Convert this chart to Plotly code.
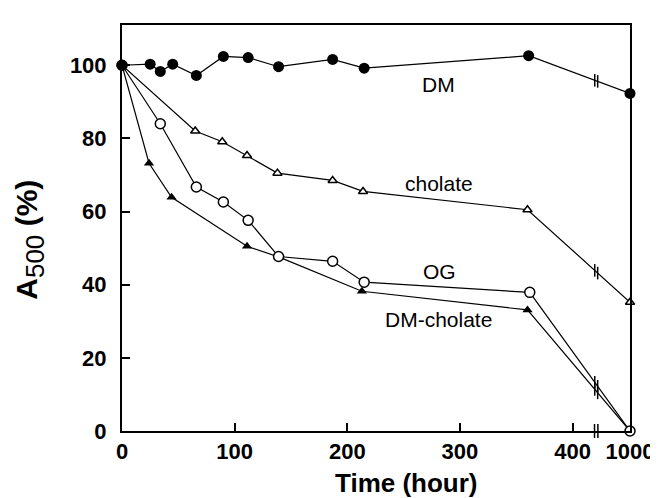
import plotly.graph_objects as go

# ---- data ----
dm_t = [0, 25, 34, 45, 66, 90, 112, 139, 187, 215, 361, 1000]
dm_v = [100, 100.3, 98.3, 100.3, 97.2, 102.4, 102.1, 99.6, 101.6, 99.2, 102.6, 92.3]

cholate_t = [0, 65, 89, 111, 138, 187, 214, 360, 1000]
cholate_v = [100, 82.0, 79.1, 75.3, 70.5, 68.5, 65.5, 60.5, 35.2]

og_t = [0, 34, 66, 90, 112, 139, 187, 215, 362, 1000]
og_v = [100, 84.0, 66.7, 62.6, 57.6, 47.7, 46.4, 40.7, 37.9, 0]

dmchol_t = [0, 24, 44, 111, 139, 213, 360, 1000]
dmchol_v = [100, 73.2, 63.9, 50.5, 47.6, 38.2, 33.1, 0]

x_tick_labels = ["0", "100", "200", "300", "400", "1000"]
y_tick_vals = [0, 20, 40, 60, 80, 100]

# ---- broken axis layout ----
BREAK_AT = 421
POS_1000 = 451


def to_axis(ts):
    return [t if t <= 400 else POS_1000 for t in ts]


x_tick_vals = [0, 100, 200, 300, 400, POS_1000]

FONT = "Liberation Sans"
fig = go.Figure()

series = [
    ("DM-cholate", dmchol_t, dmchol_v, dict(symbol="triangle-up", size=9, color="black")),
    ("OG", og_t, og_v, dict(symbol="circle", size=10, color="white", line=dict(color="black", width=1.5))),
    ("cholate", cholate_t, cholate_v, dict(symbol="triangle-up", size=8, color="white", line=dict(color="black", width=1.5))),
    ("DM", dm_t, dm_v, dict(symbol="circle", size=11, color="black")),
]

for name, t, v, mk in series:
    xs = to_axis(t)
    fig.add_trace(go.Scatter(x=xs, y=v, mode="lines+markers", name=name,
                             line=dict(color="black", width=1.2), marker=mk,
                             cliponaxis=False, showlegend=False))
    # break marks on the last segment
    x0, y0, x1, y1 = xs[-2], v[-2], xs[-1], v[-1]
    bx = [BREAK_AT - 1.3, BREAK_AT + 1.3]
    by = [y0 + (b - x0) * (y1 - y0) / (x1 - x0) for b in bx]
    fig.add_trace(go.Scatter(x=bx, y=by, mode="markers", showlegend=False,
                             marker=dict(symbol="line-ns", size=9,
                                         line=dict(color="black", width=1.5)),
                             hoverinfo="skip", cliponaxis=False))

# break marks on x axis
fig.add_trace(go.Scatter(x=[BREAK_AT - 1.5, BREAK_AT + 1.5], y=[0, 0], mode="markers",
                         showlegend=False, cliponaxis=False, hoverinfo="skip",
                         marker=dict(symbol="line-ns", size=10,
                                     line=dict(color="black", width=1.5))))

# series labels
labels = [("DM", 281, 94.8), ("cholate", 281, 67.8), ("OG", 282, 43.6), ("DM-cholate", 281, 30.4)]
for txt, lx, ly in labels:
    fig.add_annotation(x=lx, y=ly, text=txt, showarrow=False,
                       font=dict(family=FONT, size=21, color="black"))

fig.add_annotation(xref="paper", yref="paper", x=0.561, y=-0.128, yanchor="middle",
                   text="<b>Time (hour)</b>", showarrow=False,
                   font=dict(family=FONT, size=26, color="black"))
fig.add_annotation(xref="paper", yref="paper", x=-0.182, y=0.47, xanchor="center",
                   yanchor="middle",
                   text="<b>A</b><sub><span style='font-size:26px'>500</span></sub><b> (%)</b>",
                   textangle=-90, showarrow=False,
                   font=dict(family=FONT, size=30, color="black"))

axis_common = dict(showline=True, linecolor="black", linewidth=2, mirror=True,
                   ticks="inside", ticklen=8, tickwidth=2, tickcolor="black",
                   showgrid=False, zeroline=False,
                   tickfont=dict(family=FONT, size=22, color="black", weight="bold"))

fig.update_xaxes(range=[0, POS_1000], tickvals=x_tick_vals, ticktext=x_tick_labels,
                 ticklabelstandoff=0, **axis_common)
fig.update_yaxes(range=[0, 111], tickvals=y_tick_vals, ticklabelstandoff=9, **axis_common)

fig.update_layout(width=658, height=498, margin=dict(l=114, r=31, t=17, b=75),
                  paper_bgcolor="white", plot_bgcolor="white",
                  font=dict(family=FONT, color="black"))

fig.write_html("out.html")
